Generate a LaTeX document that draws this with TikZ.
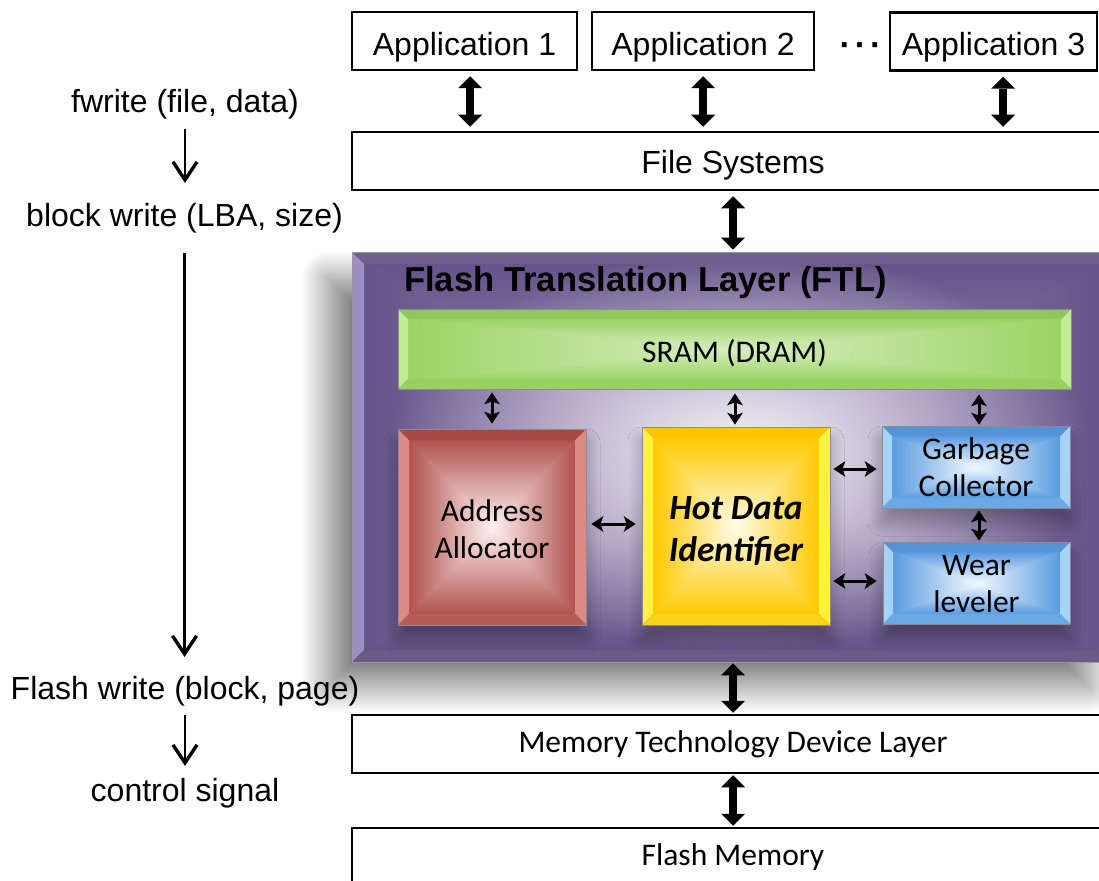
\documentclass[tikz,border=0pt]{standalone}
\usepackage{fontspec}
\setmainfont{Liberation Sans}
\newfontfamily\calibrifont{Carlito}
\usetikzlibrary{arrows.meta,shadows.blur,fadings,calc}

% palette
\definecolor{ftledge}{HTML}{66548A}
\definecolor{ftlcentre}{HTML}{A292BC}
\definecolor{ftlside}{HTML}{9D8FC2}
\definecolor{ftltop}{HTML}{715F90}
\definecolor{ftlbottom}{HTML}{6B5A88}
\definecolor{aaedge}{HTML}{B0524E}
\definecolor{aacentre}{HTML}{FFF2F2}
\definecolor{aaside}{HTML}{DC8A86}
\definecolor{aatop}{HTML}{A84844}
\definecolor{aabottom}{HTML}{B85C58}
\definecolor{hdiedge}{HTML}{FFC800}
\definecolor{hdicentre}{HTML}{FFFBE8}
\definecolor{hdiside}{HTML}{FFF23C}
\definecolor{hditop}{HTML}{FFC400}
\definecolor{hdibottom}{HTML}{FFD21A}
\definecolor{bledge}{HTML}{5A9BE0}
\definecolor{blcentre}{HTML}{F4F9FF}
\definecolor{blside}{HTML}{A6D2F8}
\definecolor{bltop}{HTML}{5592D6}
\definecolor{blbottom}{HTML}{6AA8E6}
\definecolor{sramedge}{HTML}{9CD364}
\definecolor{sramcentre}{HTML}{D6EEC0}
\definecolor{sramside}{HTML}{C2EC94}
\definecolor{sramtop}{HTML}{8FC95A}
\definecolor{srambottom}{HTML}{98D062}

\tikzfading[name=softhaze, inner color=transparent!0, outer color=transparent!100]

% pad a box at the top so that its text sits lower in a centred node
\newcommand\lowered[2]{\raisebox{0pt}[\dimexpr\height+#1\relax][\depth]{#2}}
\newcommand\twolines[2]{\begin{tabular}{@{}c@{}}#1\\#2\end{tabular}}

% bevelled body: #1 edge colour, #2 centre colour, #3 side bevel,
% #4 top bevel, #5 bottom bevel, #6 bevel width
\newcommand\bevelpaint[6]{%
  \coordinate (bp-sw) at (path picture bounding box.south west);
  \coordinate (bp-ne) at (path picture bounding box.north east);
  \coordinate (bp-c)  at (path picture bounding box.center);
  \coordinate (bp-nw) at (bp-sw |- bp-ne);
  \coordinate (bp-se) at (bp-ne |- bp-sw);
  \coordinate (bi-sw) at ([shift={(#6,#6)}]bp-sw);
  \coordinate (bi-ne) at ([shift={(-#6,-#6)}]bp-ne);
  \coordinate (bi-nw) at (bi-sw |- bi-ne);
  \coordinate (bi-se) at (bi-ne |- bi-sw);
  \fill[#1!50!#2] (bi-sw) rectangle (bi-ne);
  \shade[left color=#1, right color=#2] (bi-sw) -- (bi-nw) -- (bp-c) -- cycle;
  \shade[left color=#2, right color=#1] (bi-se) -- (bi-ne) -- (bp-c) -- cycle;
  \shade[top color=#1, bottom color=#2] (bi-nw) -- (bi-ne) -- (bp-c) -- cycle;
  \shade[top color=#2, bottom color=#1] (bi-sw) -- (bi-se) -- (bp-c) -- cycle;
  \fill[#3] (bp-sw) -- (bp-nw) -- (bi-nw) -- (bi-sw) -- cycle;
  \fill[#3] (bp-se) -- (bp-ne) -- (bi-ne) -- (bi-se) -- cycle;
  \fill[#4] (bp-nw) -- (bp-ne) -- (bi-ne) -- (bi-nw) -- cycle;
  \fill[#5] (bp-sw) -- (bp-se) -- (bi-se) -- (bi-sw) -- cycle;
}

\begin{document}
\begin{tikzpicture}[x=1pt, y=-1pt,
  layer/.style={draw=black, line width=2.5pt, fill=white, inner sep=0pt, minimum height=58pt},
  appfont/.style={font=\fontsize{32}{38}\selectfont},
  calfont/.style={font=\calibrifont\fontsize{31.5}{37}\selectfont},
  flowlabel/.style={font=\fontsize{32}{38}\selectfont, inner sep=0pt},
  bigarrow/.style={line width=8pt,
    {Triangle[length=12pt,width=24pt,line width=0pt]}-{Triangle[length=12pt,width=24pt,line width=0pt]}},
  linkarrow/.style={line width=3pt,
    {Stealth[length=12pt,width=16pt,inset=3pt,line width=0pt]}-{Stealth[length=12pt,width=16pt,inset=3pt,line width=0pt]}},
  flowarrow/.style={line width=2.8pt, -{Straight Barb[length=18pt,width=24pt,line width=3.4pt]}},
  bevelbox/.style n args={6}{draw=black!45, line width=0.8pt, inner sep=0pt,
    path picture={\bevelpaint{#1}{#2}{#3}{#4}{#5}{#6}}},
  boxshadow/.style={blur shadow={shadow xshift=0pt, shadow yshift=-14pt,
    shadow blur radius=14pt, shadow blur steps=30, shadow opacity=32}},
  ftlbox/.style={draw=black!40, line width=0.6pt, fill=ftledge, inner sep=0pt,
    blur shadow={shadow xshift=-25pt, shadow yshift=-25pt, shadow blur radius=26pt,
      shadow blur steps=60, shadow opacity=50},
    path picture={\bevelpaint{ftledge}{ftlcentre}{ftlside}{ftltop}{ftlbottom}{12pt}}},
]
\useasboundingbox (0,0) rectangle (1099,880);

% applications and file system
\node[layer, appfont, minimum width=225pt] (app1) at (464.5,41) {\lowered{11.5pt}{Application 1}};
\node[layer, appfont, minimum width=222pt] (app2) at (703,41) {\lowered{11.5pt}{Application 2}};
\node[layer, appfont, minimum width=207pt] (app3) at (993.5,41.5) {\lowered{11.5pt}{Application 3}};
\node[font=\bfseries\fontsize{34}{40}\selectfont, inner sep=0pt] (dots) at (860.5,49.5) {·\hspace{4pt}·\hspace{4pt}·};
\node[layer, appfont, minimum width=762pt] (fs) at (733,161) {\lowered{8pt}{File Systems}};

% flash translation layer
\node[ftlbox, minimum width=762pt, minimum height=410pt] (ftl) at (733,457) {};
\begin{scope}
  \clip (364,264) rectangle (1099,650);
  \fill[white, path fading=softhaze, fill opacity=0.88] (740,450) ellipse [x radius=350pt, y radius=200pt];
\end{scope}
\node[anchor=west, font=\bfseries\fontsize{34.6}{40}\selectfont, inner sep=0pt] (ftltitle) at (404,283) {Flash Translation Layer (FTL)};

\node[bevelbox={sramedge}{sramcentre}{sramside}{sramtop}{srambottom}{10pt}, calfont,
      minimum width=673pt, minimum height=80pt] (sram) at (734.5,349) {\lowered{9pt}{SRAM (DRAM)}};
\node[bevelbox={aaedge}{aacentre}{aaside}{aatop}{aabottom}{11pt}, boxshadow,
      font=\calibrifont\fontsize{31.5}{36.5}\selectfont,
      minimum width=188pt, minimum height=196pt] (aa) at (492,527) {\lowered{11pt}{\twolines{Address}{Allocator}}};
\node[bevelbox={hdiedge}{hdicentre}{hdiside}{hditop}{hdibottom}{11pt}, boxshadow,
      font=\calibrifont\bfseries\itshape\fontsize{35.5}{42.7}\selectfont,
      minimum width=188pt, minimum height=198pt] (hdi) at (736,526) {\lowered{12pt}{\twolines{Hot Data}{Identifier}}};
\node[bevelbox={bledge}{blcentre}{blside}{bltop}{blbottom}{10pt}, boxshadow, calfont,
      minimum width=188pt, minimum height=80pt] (gc) at (976,467) {\lowered{8pt}{\twolines{Garbage}{Collector}}};
\node[bevelbox={bledge}{blcentre}{blside}{bltop}{blbottom}{10pt}, boxshadow, calfont,
      minimum width=187pt, minimum height=80pt] (wl) at (976.5,583) {\lowered{8pt}{\twolines{Wear}{leveler}}};

% lower layers
\node[layer, calfont, minimum width=762pt] (mtd) at (733,744) {Memory Technology Device Layer};
\node[layer, calfont, minimum width=762pt] (fm) at (733,857) {Flash Memory};

% write path labels
\node[flowlabel] (fwrite) at (185,104.5) {fwrite (file, data)};
\node[flowlabel] (bwrite) at (184.5,218) {block write (LBA, size)};
\node[flowlabel] (flwrite) at (185,691) {Flash write (block, page)};
\node[flowlabel] (ctrl) at (185,793) {control signal};

\draw[flowarrow] ($(fwrite.south)+(0,9)$) -- ($(fwrite.south |- bwrite.north)+(0,-20)$);
\draw[flowarrow] ($(bwrite.south)+(0,20)$) -- ($(bwrite.south |- flwrite.north)+(0,-19)$);
\draw[flowarrow] ($(flwrite.south)+(0,9)$) -- ($(flwrite.south |- ctrl.north)+(0,-12)$);

% layer connections
\draw[bigarrow] ($(app1.south)+(5.5,5)$) -- ($(app1.south |- fs.north)+(5.5,-4)$);
\draw[bigarrow] ($(app2.south)+(0,5)$) -- ($(app2.south |- fs.north)+(0,-4)$);
\draw[bigarrow] ($(app3.south)+(9.5,5)$) -- ($(app3.south |- fs.north)+(9.5,-4)$);
\draw[bigarrow] ($(fs.south)+(0,5)$) -- ($(ftl.north)+(0,-2)$);
\draw[bigarrow] ($(ftl.south)+(0,1)$) -- ($(mtd.north)+(0,-1)$);
\draw[bigarrow] ($(mtd.south)+(0,1)$) -- ($(fm.north)+(0,-1)$);

% FTL internal links
\draw[linkarrow] ($(sram.south -| aa.north)+(0,3)$) -- ($(aa.north)+(0,-5)$);
\draw[linkarrow] ($(sram.south -| hdi.north)+(-1,4)$) -- ($(hdi.north)+(-1,-2)$);
\draw[linkarrow] ($(sram.south -| gc.north)+(3,5)$) -- ($(gc.north)+(3,-1)$);
\draw[linkarrow] ($(gc.south)+(3,2)$) -- ($(wl.north)+(2.5,-1)$);
\draw[linkarrow] ($(aa.east)+(5,-3)$) -- ($(aa.east -| hdi.west)+(-6,-3)$);
\draw[linkarrow] ($(hdi.east |- gc.west)+(3,2)$) -- ($(gc.west)+(-5,2)$);
\draw[linkarrow] ($(hdi.east |- wl.west)+(3,-2)$) -- ($(wl.west)+(-6,-2)$);
\end{tikzpicture}
\end{document}
